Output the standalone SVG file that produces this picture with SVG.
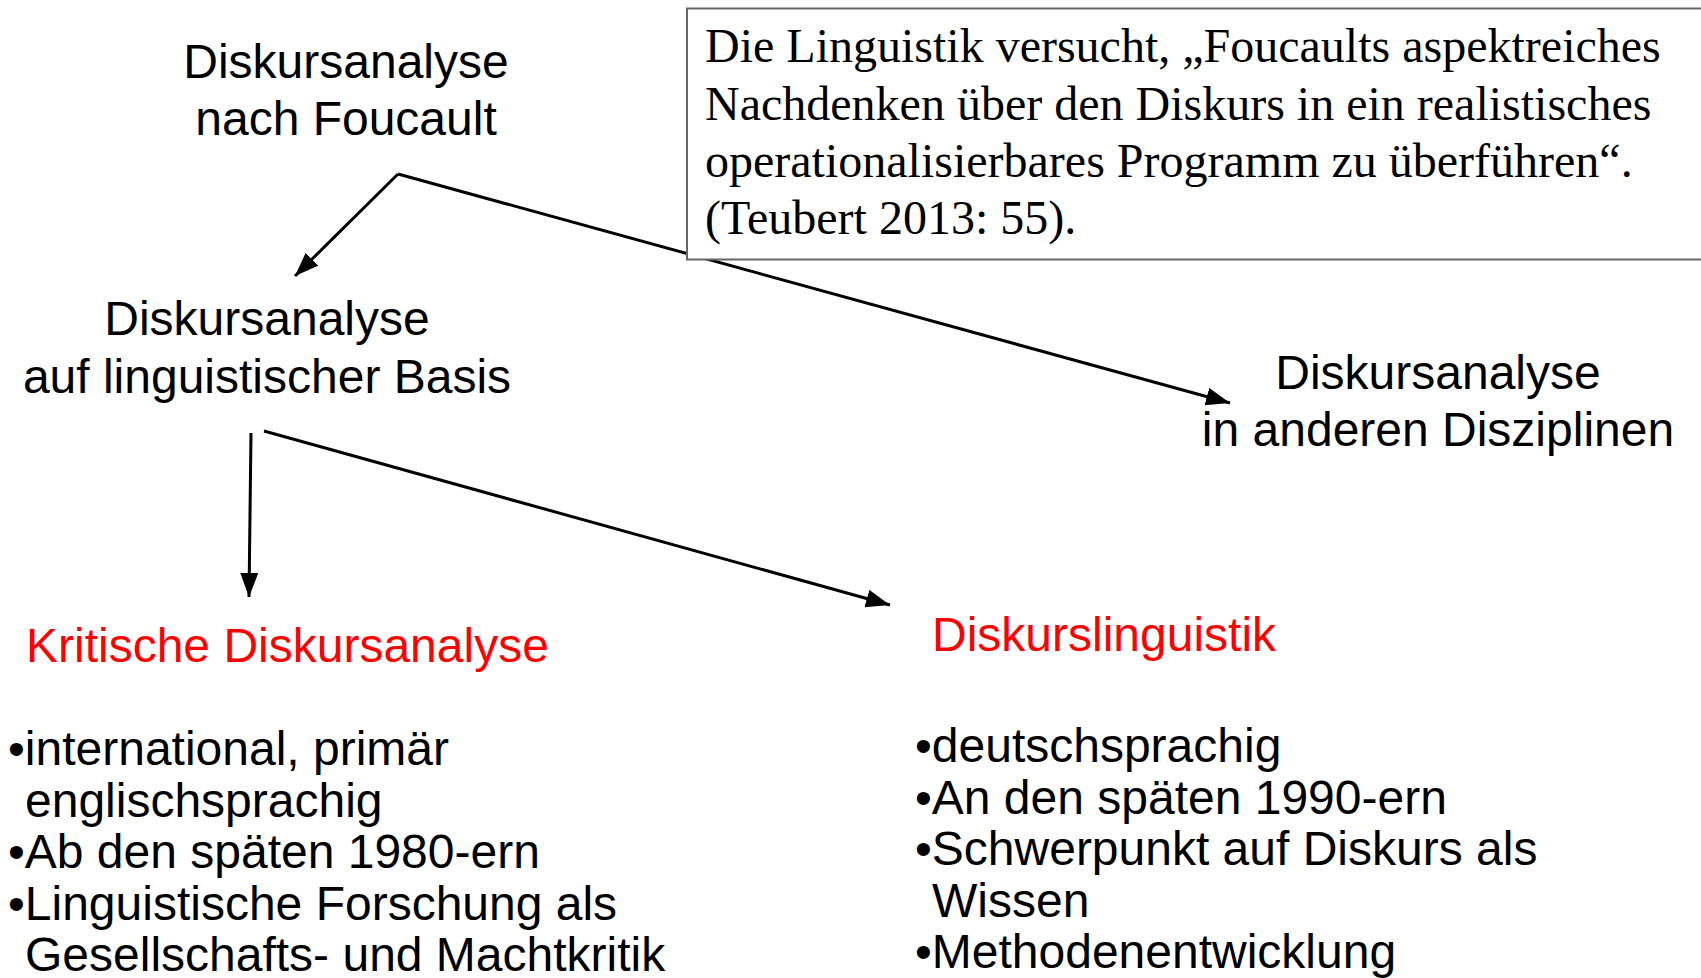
<svg xmlns="http://www.w3.org/2000/svg" width="1701" height="978" viewBox="0 0 1701 978">
<style>
.t{font-family:"Liberation Sans",Arial,sans-serif;font-size:48px;fill:#000}
.c{text-anchor:middle}
.r{fill:#ff0000}
.q{font-family:"Liberation Serif","Times New Roman",serif;font-size:48px;fill:#000}
.ln{stroke:#000;stroke-width:3;fill:none}
</style>
<defs>
<marker id="ah" markerUnits="userSpaceOnUse" markerWidth="26" markerHeight="20" refX="24" refY="9" orient="auto">
<path d="M0,0 L24,9 L0,18 z" fill="#000"/>
</marker>
</defs>
<rect width="1701" height="978" fill="#fff"/>
<g id="connectors">
<line class="ln" x1="398" y1="174" x2="295" y2="276" marker-end="url(#ah)"/>
<line class="ln" x1="398" y1="174" x2="1230" y2="403" marker-end="url(#ah)"/>
<line class="ln" x1="251" y1="433" x2="249" y2="597" marker-end="url(#ah)"/>
<line class="ln" x1="264" y1="431" x2="890" y2="605" marker-end="url(#ah)"/>
</g>
<g id="quote">
<rect x="687" y="8.5" width="1030" height="251" fill="#fff" stroke="#666" stroke-width="2"/>
<text class="q" x="705" y="62">Die Linguistik versucht, „Foucaults aspektreiches</text>
<text class="q" x="705" y="120">Nachdenken über den Diskurs in ein realistisches</text>
<text class="q" x="705" y="177">operationalisierbares Programm zu überführen“.</text>
<text class="q" x="705" y="234">(Teubert 2013: 55).</text>
</g>
<g id="foucault">
<text class="t c" x="346" y="78">Diskursanalyse</text>
<text class="t c" x="346" y="135">nach Foucault</text>
</g>
<g id="linguistisch">
<text class="t c" x="267" y="335">Diskursanalyse</text>
<text class="t c" x="267" y="393">auf linguistischer Basis</text>
</g>
<g id="andere">
<text class="t c" x="1438" y="389">Diskursanalyse</text>
<text class="t c" x="1438" y="446">in anderen Disziplinen</text>
</g>
<g id="kda">
<text class="t r" x="26" y="662">Kritische Diskursanalyse</text>
<text class="t" x="8" y="765">•international, primär</text>
<text class="t" x="25" y="817">englischsprachig</text>
<text class="t" x="8" y="868">•Ab den späten 1980-ern</text>
<text class="t" x="8" y="920">•Linguistische Forschung als</text>
<text class="t" x="25" y="971">Gesellschafts- und Machtkritik</text>
</g>
<g id="dl">
<text class="t r" x="932" y="651">Diskurslinguistik</text>
<text class="t" x="915" y="762">•deutschsprachig</text>
<text class="t" x="915" y="814">•An den späten 1990-ern</text>
<text class="t" x="915" y="865">•Schwerpunkt auf Diskurs als</text>
<text class="t" x="932" y="917">Wissen</text>
<text class="t" x="915" y="968">•Methodenentwicklung</text>
</g>
</svg>
